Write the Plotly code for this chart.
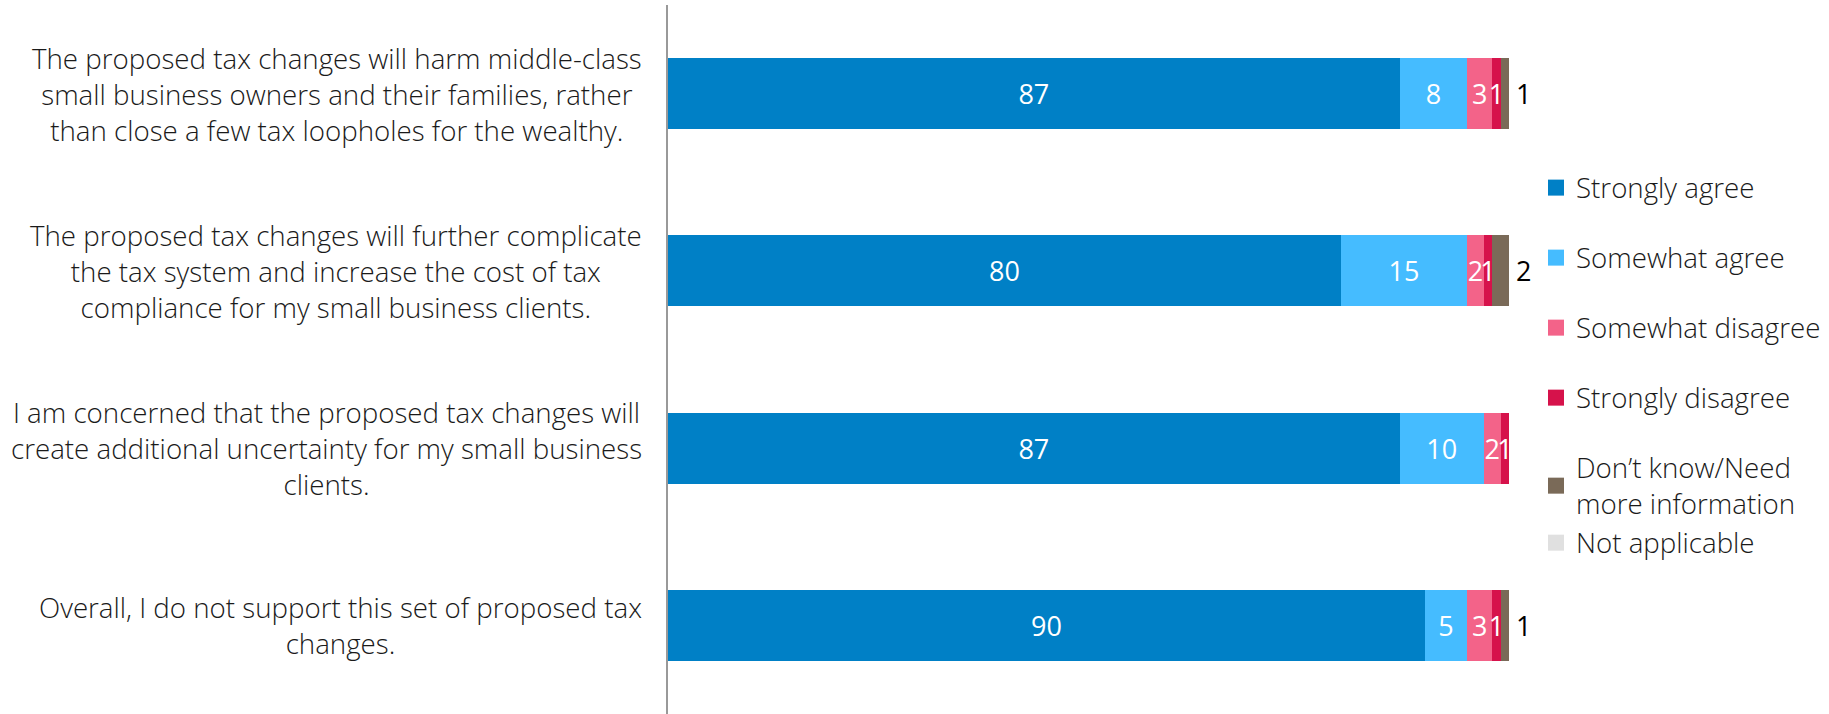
import plotly.graph_objects as go

# ---- data ----
statements = [
    "The proposed tax changes will harm middle-class<br>small business owners and their families, rather<br>than close a few tax loopholes for the wealthy.",
    "The proposed tax changes will further complicate<br>the tax system and increase the cost of tax<br>compliance for my small business clients.",
    "I am concerned that the proposed tax changes will<br>create additional uncertainty for my small business<br>clients.",
    "Overall, I do not support this set of proposed tax<br>changes.",
]
strongly_agree = [87, 80, 87, 90]
somewhat_agree = [8, 15, 10, 5]
somewhat_disagree = [3, 2, 2, 3]
strongly_disagree = [1, 1, 1, 1]
dont_know = [1, 2, None, 1]
not_applicable = [None, None, None, None]

series_names = ["Strongly agree", "Somewhat agree", "Somewhat disagree",
                "Strongly disagree", "Don\u2019t know/Need<br>more information", "Not applicable"]
series_values = [strongly_agree, somewhat_agree, somewhat_disagree,
                 strongly_disagree, dont_know, not_applicable]
series_colors = ["#0080C6", "#45BCFF", "#F36389", "#D6124B", "#7A6A58", "#E0E0E0"]
legend_groups = ["g1", "g2", "g3", "g4", "g5", "g5"]

FONT = "Open Sans"
FS = 27.7
FS_NUM = 27
TXT = "#1a1a1a"

fig = go.Figure()
for name, vals, col in zip(series_names, series_values, series_colors):
    inside = name not in (series_names[4], series_names[5])
    fig.add_trace(go.Bar(
        y=statements, x=vals, name=name, orientation="h",
        marker=dict(color=col, line=dict(width=0)),
        text=[("" if v is None else str(v)) for v in vals] if inside else None,
        textposition="inside" if inside else "none",
        insidetextanchor="middle", textangle=0, constraintext="none",
        textfont=dict(color="white", size=FS_NUM, family=FONT),
        showlegend=False, hoverinfo="skip",
    ))

# legend entries (square markers)
for name, col, grp in zip(series_names, series_colors, legend_groups):
    fig.add_trace(go.Scatter(
        x=[None], y=[None], mode="markers", name=name,
        marker=dict(symbol="square", size=16, color=col),
        legendgroup=grp, showlegend=True,
    ))

# outside labels for "Don't know"
for i, s in enumerate(statements):
    if dont_know[i] is not None:
        total = sum(v[i] for v in series_values if v[i] is not None)
        fig.add_annotation(
            x=total, xref="x", y=s, yref="y", text=str(dont_know[i]), showarrow=False,
            xanchor="left", xshift=5,
            font=dict(size=FS_NUM, family=FONT, color="black"),
        )

for s in statements:
    fig.add_annotation(
        x=0, xref="paper", y=s, yref="y", text=s, showarrow=False,
        xanchor="right", align="center", xshift=-24,
        font=dict(size=FS, family=FONT, color=TXT, weight=300),
    )

fig.update_layout(
    width=1829, height=714,
    margin=dict(l=668, r=293, t=5, b=0),
    barmode="stack", bargap=0.6,
    plot_bgcolor="white", paper_bgcolor="white",
    font=dict(family=FONT, size=FS, color=TXT),
    legend=dict(x=1.0, xanchor="left", y=0.777, yanchor="top",
                traceorder="grouped", tracegroupgap=31,
                font=dict(size=FS, family=FONT, color=TXT, weight=300),
                bgcolor="rgba(0,0,0,0)"),
    xaxis=dict(visible=False, range=[0, 103.2]),
    yaxis=dict(range=[3.5, -0.5], showticklabels=False, showgrid=False, zeroline=False,
               showline=True, linecolor="#999999", linewidth=2, ticks=""),
)

fig.write_html("out.html", config={"displayModeBar": False},
               post_script="document.body.style.margin='0';")
